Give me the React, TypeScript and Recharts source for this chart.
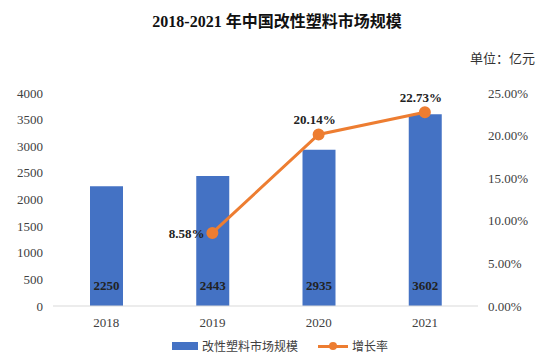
import { ComposedChart, Bar, Line, XAxis, YAxis, LabelList } from 'recharts';

const years = ['2018', '2019', '2020', '2021'];
const marketSize = [2250, 2443, 2935, 3602];
const growthRate: (number | null)[] = [null, 8.58, 20.14, 22.73];
const leftTicks = [0, 500, 1000, 1500, 2000, 2500, 3000, 3500, 4000];
const rightTicks = [0, 5, 10, 15, 20, 25];

const data = years.map((y, i) => ({ year: y, size: marketSize[i], rate: growthRate[i] }));

const SERIF = '"Liberation Serif", "Times New Roman", serif';
const CJK = '"Noto Sans CJK SC", sans-serif';
const BLUE = '#4472C4';
const ORANGE = '#ED7D31';

function SerifTick(props: any) {
  const { x, y, payload, textAnchor, fmt } = props;
  return (
    <text x={x} y={y} dy="0.355em" textAnchor={textAnchor} fontFamily={SERIF} fontSize={13} fill="#404040">
      {fmt ? fmt(payload.value) : payload.value}
    </text>
  );
}

function XTick(props: any) {
  const { x, y, payload } = props;
  return (
    <text x={x} y={y} dy="0.9em" textAnchor="middle" fontFamily={SERIF} fontSize={13} fill="#404040">
      {payload.value}
    </text>
  );
}

function RateLabel(props: any) {
  const { x, y, value, index } = props;
  if (value == null) return null;
  const first = index === 1;
  return (
    <text
      x={first ? x - 8 : x - 4}
      y={first ? y + 5 : y - 10}
      textAnchor={first ? 'end' : 'middle'}
      fontFamily={SERIF}
      fontSize={13}
      fontWeight={700}
      fill="#222"
    >
      {value.toFixed(2)}%
    </text>
  );
}

export default function App() {
  return (
    <div style={{ position: 'absolute', left: 0, top: 0, width: 554, height: 357, background: '#fff' }}>
      <div style={{ position: 'absolute', top: 8, width: 554, textAlign: 'center', fontWeight: 700, fontSize: 16, color: '#111' }}>
        <span style={{ fontFamily: SERIF }}>2018-2021 </span>
        <span style={{ fontFamily: CJK }}>年中国改性塑料市场规模</span>
      </div>
      <div style={{ position: 'absolute', top: 48, left: 470, fontFamily: CJK, fontSize: 13, color: '#333' }}>
        单位：亿元
      </div>
      <ComposedChart width={554} height={357} data={data} margin={{ top: 93, right: 0, bottom: 0, left: 0 }}>
        <XAxis
          dataKey="year"
          axisLine={{ stroke: '#d9d9d9' }}
          tickLine={false}
          tickSize={0}
          tickMargin={9}
          height={51}
          tick={<XTick />}
        />
        <YAxis
          yAxisId="left"
          domain={[0, 4000]}
          ticks={leftTicks}
          width={53}
          axisLine={false}
          tickLine={false}
          tickMargin={4}
          tick={<SerifTick />}
        />
        <YAxis
          yAxisId="right"
          orientation="right"
          domain={[0, 25]}
          ticks={rightTicks}
          width={76}
          axisLine={false}
          tickLine={false}
          tickMargin={4}
          tick={<SerifTick fmt={(v: number) => `${v.toFixed(2)}%`} />}
        />
        <Bar yAxisId="left" dataKey="size" fill={BLUE} barSize={33} isAnimationActive={false}>
          <LabelList
            dataKey="size"
            position="insideBottom"
            offset={16}
            style={{ fontFamily: SERIF, fontSize: 13, fontWeight: 700, fill: '#222' }}
          />
        </Bar>
        <Line
          yAxisId="right"
          dataKey="rate"
          stroke={ORANGE}
          strokeWidth={3}
          dot={{ r: 4.5, fill: ORANGE, stroke: ORANGE }}
          isAnimationActive={false}
        >
          <LabelList dataKey="rate" content={<RateLabel />} />
        </Line>
      </ComposedChart>
      <div style={{ position: 'absolute', top: 337, left: 172, display: 'flex', alignItems: 'center', fontFamily: CJK, fontSize: 12, color: '#404040' }}>
        <span style={{ display: 'inline-block', width: 26, height: 8, background: BLUE, marginRight: 4 }} />
        <span>改性塑料市场规模</span>
        <span style={{ position: 'relative', display: 'inline-block', width: 30, height: 10, marginLeft: 20, marginRight: 4 }}>
          <span style={{ position: 'absolute', left: 0, top: 4, width: 30, height: 3, background: ORANGE }} />
          <span style={{ position: 'absolute', left: 11, top: 1, width: 8, height: 8, borderRadius: 4, background: ORANGE }} />
        </span>
        <span>增长率</span>
      </div>
    </div>
  );
}
